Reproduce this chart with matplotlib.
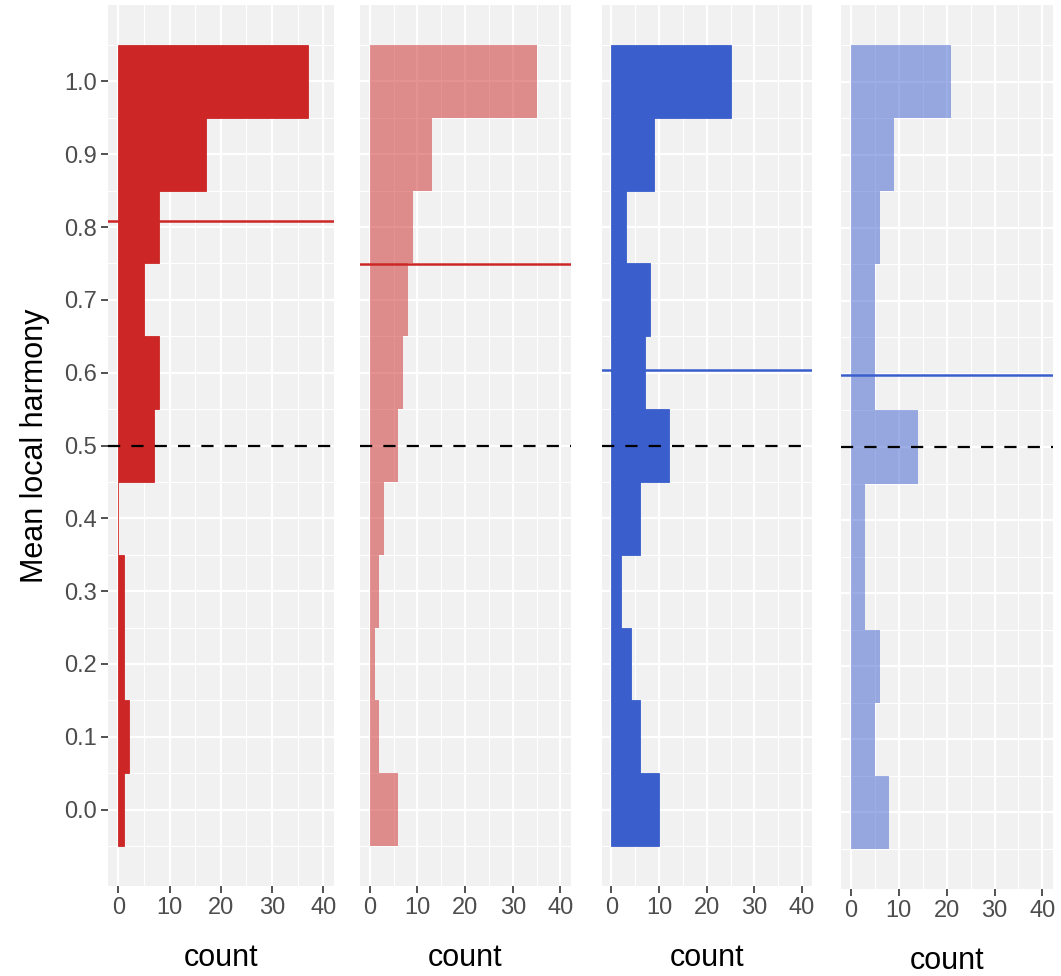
import matplotlib
matplotlib.use("Agg")
import matplotlib.pyplot as plt
import numpy as np

plt.rcParams['font.family'] = ['Liberation Sans', 'DejaVu Sans']

# bins (centers) of mean local harmony
bin_centers = [0.0, 0.1, 0.2, 0.3, 0.4, 0.5, 0.6, 0.7, 0.8, 0.9, 1.0]

# counts per panel (bottom bin 0.0 -> top bin 1.0)
counts_red_dark = [1, 2, 1, 1, 0, 7, 8, 5, 8, 17, 37]
counts_red_light = [6, 2, 1, 2, 3, 6, 7, 8, 9, 13, 35]
counts_blue_dark = [10, 6, 4, 2, 6, 12, 7, 8, 3, 9, 25]
counts_blue_light = [8, 5, 6, 3, 3, 14, 5, 5, 6, 9, 21]

# mean lines
mean_lines = [0.809, 0.749, 0.604, 0.599]
reference_line = 0.5

x_ticks = [0, 10, 20, 30, 40]
y_ticks = [0.0, 0.1, 0.2, 0.3, 0.4, 0.5, 0.6, 0.7, 0.8, 0.9, 1.0]
y_tick_labels = ["0.0", "0.1", "0.2", "0.3", "0.4", "0.5", "0.6", "0.7", "0.8", "0.9", "1.0"]

RED = "#CD2626"
BLUE = "#3A5FCD"

panels = [
    (counts_red_dark, RED, 1.0, RED, mean_lines[0]),
    (counts_red_light, RED, 0.5, RED, mean_lines[1]),
    (counts_blue_dark, BLUE, 1.0, BLUE, mean_lines[2]),
    (counts_blue_light, BLUE, 0.5, BLUE, mean_lines[3]),
]

W, H = 1061, 976
fig = plt.figure(figsize=(W / 100, H / 100), dpi=100)
fig.patch.set_facecolor("white")

# panel pixel boxes: left, right, top, bottom
boxes = [
    (108, 334.3, 5, 886),
    (360, 570.7, 5, 886),
    (601.7, 812.3, 5, 886),
    (841, 1052.7, 5, 889),
]

for i, ((counts, color, alpha, lcolor, mline), (l, r, t, b)) in enumerate(zip(panels, boxes)):
    ax = fig.add_axes([l / W, 1 - b / H, (r - l) / W, (b - t) / H])
    ax.set_facecolor("#F1F1F1")
    ax.set_xlim(-2.05, 42.15)
    ax.set_ylim(-0.105, 1.105)
    ax.set_xticks(x_ticks)
    ax.set_xticks([5, 15, 25, 35], minor=True)
    ax.set_yticks(y_ticks)
    ax.set_yticks(np.arange(-0.05, 1.1, 0.1), minor=True)
    ax.grid(which="major", color="white", linewidth=1.6)
    ax.grid(which="minor", color="white", linewidth=0.8)
    ax.set_axisbelow(True)
    for s in ax.spines.values():
        s.set_visible(False)

    if alpha == 1.0:
        ax.barh(bin_centers, counts, height=0.1, color=color, alpha=alpha,
                edgecolor=color, linewidth=0.6, zorder=2)
    else:
        ax.barh(bin_centers, counts, height=0.1, color=color, alpha=alpha,
                linewidth=0, zorder=2)

    ax.axhline(mline, color=lcolor, linewidth=1.8, zorder=3)
    ax.axhline(reference_line, color="black", linewidth=1.6,
               linestyle=(0, (5.5, 5)), zorder=3)

    ax.tick_params(axis="x", which="major", length=5, width=1.2, color="#333333",
                   labelsize=17, labelcolor="#4D4D4D", pad=3)
    ax.tick_params(which="minor", length=0)
    ax.set_xticklabels([str(v) for v in x_ticks])
    ax.set_xlabel("count", fontsize=22, color="black", labelpad=17)

    if i == 0:
        ax.set_yticks(y_ticks)
        ax.set_yticklabels(y_tick_labels)
        ax.tick_params(axis="y", which="major", length=5, width=1.2, color="#333333",
                       labelsize=17, labelcolor="#4D4D4D", pad=3)
        ax.set_ylabel("Mean local harmony", fontsize=22, color="black", labelpad=10)
    else:
        ax.tick_params(axis="y", which="major", length=0, labelleft=False)

fig.savefig("out.png", dpi=100, facecolor="white")
